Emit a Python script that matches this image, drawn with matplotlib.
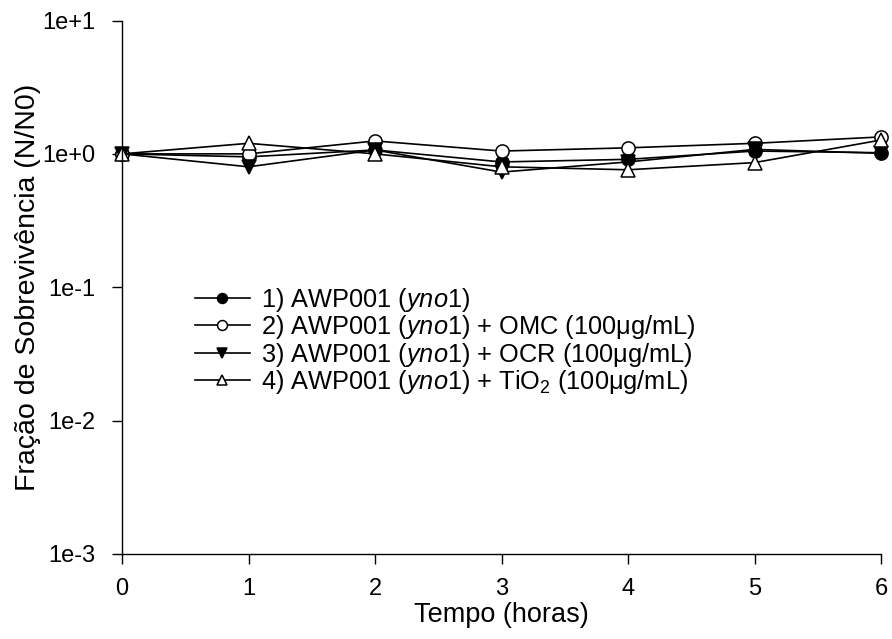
import matplotlib
matplotlib.use("Agg")
import matplotlib.pyplot as plt

plt.rcParams['font.family'] = ['Liberation Sans', 'DejaVu Sans']
plt.rcParams['mathtext.fontset'] = 'custom'
plt.rcParams['mathtext.rm'] = 'Liberation Sans'
plt.rcParams['mathtext.it'] = 'Liberation Sans:italic'

hours = [0, 1, 2, 3, 4, 5, 6]
s1 = [1.00, 0.95, 1.07, 0.87, 0.91, 1.05, 1.02]
s2 = [1.00, 1.00, 1.25, 1.05, 1.11, 1.20, 1.34]
s3 = [1.00, 0.80, 1.07, 0.73, 0.87, 1.08, 1.01]
s4 = [1.00, 1.20, 1.00, 0.80, 0.76, 0.86, 1.27]
labels = [
    "1) AWP001 ($\\it{yno1}$)",
    "2) AWP001 ($\\it{yno1}$) + OMC (100$\\mathregular{\\mu}$g/mL)",
    "3) AWP001 ($\\it{yno1}$) + OCR (100$\\mathregular{\\mu}$g/mL)",
    "4) AWP001 ($\\it{yno1}$) + TiO$_2$ (100$\\mathregular{\\mu}$g/mL)",
]
yticks = [1e-3, 1e-2, 1e-1, 1e0, 1e1]
ytick_labels = ["1e-3", "1e-2", "1e-1", "1e+0", "1e+1"]

fig = plt.figure(figsize=(8.92, 6.39), dpi=100)
ax = fig.add_axes([122/892, 1 - 554/639, (881-122)/892, (554-20.5)/639])

styles = [
    dict(marker='o', mfc='black', mec='black'),
    dict(marker='o', mfc='white', mec='black'),
    dict(marker='v', mfc='black', mec='black'),
    dict(marker='^', mfc='white', mec='black'),
]
for s, lab, st in zip([s1, s2, s3, s4], labels, styles):
    ax.plot(hours, s, color='black', lw=1.2, ms=9.5, mew=1.1, label=lab,
            clip_on=False, **st)

ax.set_yscale('log')
ax.set_ylim(1e-3, 1e1)
ax.set_xlim(0, 6)
ax.set_yticks(yticks)
ax.set_yticklabels(ytick_labels)
ax.minorticks_off()
ax.set_xticks(hours)
ax.spines['top'].set_visible(False)
ax.spines['right'].set_visible(False)
for sp in ['left', 'bottom']:
    ax.spines[sp].set_linewidth(1.0)
ax.tick_params(direction='out', length=7, width=1.0, labelsize=17)
ax.tick_params(axis='y', pad=12)
ax.tick_params(axis='x', pad=10)
ax.set_xlabel("Tempo (horas)", fontsize=19.5, labelpad=2)
ax.set_ylabel("Fração de Sobrevivência (N/N0)", fontsize=20.5, labelpad=1)

leg = ax.legend(loc='upper left', bbox_to_anchor=(0.096, 0.503), frameon=False,
                fontsize=18.3, handlelength=2.15, handletextpad=0.45, labelspacing=-0.02,
                borderaxespad=0, borderpad=0, markerscale=0.75)
fig.savefig("out.png", dpi=100)
